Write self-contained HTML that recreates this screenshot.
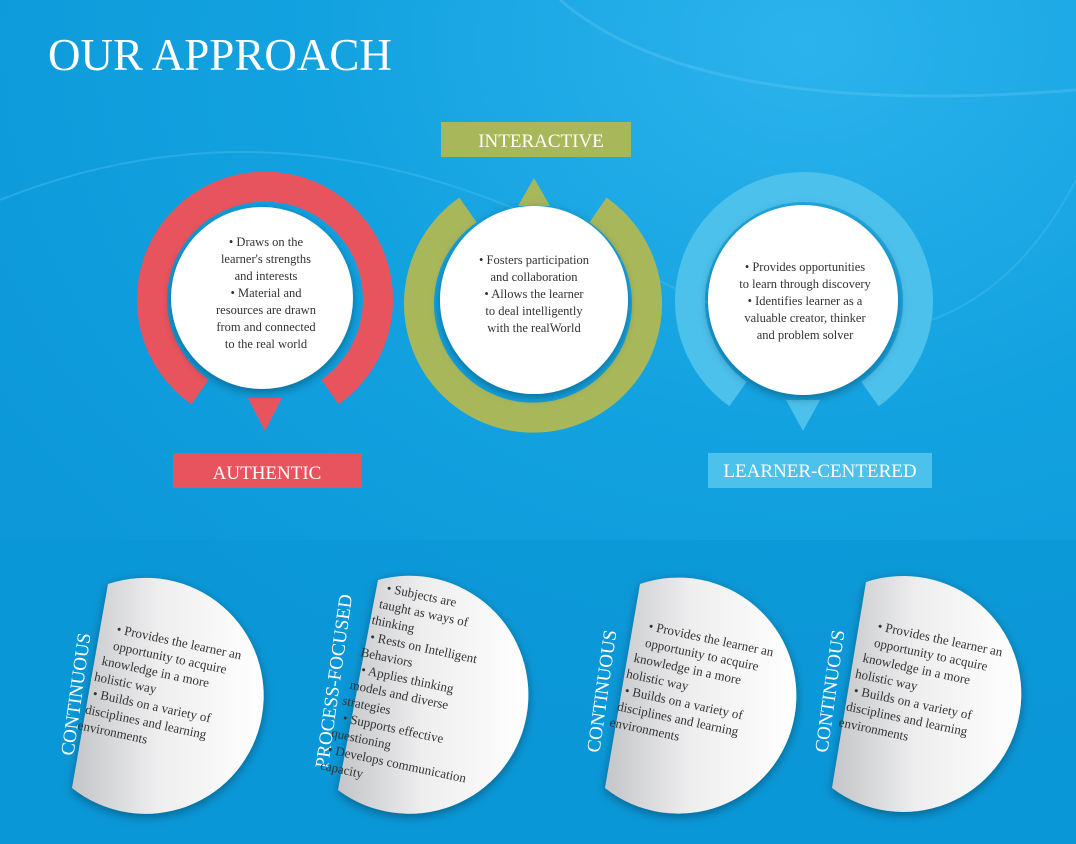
<!DOCTYPE html>
<html><head><meta charset="utf-8"><style>
html,body{margin:0;padding:0;}
body{width:1076px;height:844px;overflow:hidden;background:#0e9fdf;}
svg{display:block;}
.s{font-family:"Liberation Serif",serif;}
</style></head><body>
<svg width="1076" height="844" viewBox="0 0 1076 844" xmlns="http://www.w3.org/2000/svg">
<defs>
<radialGradient id="bg" cx="0.75" cy="0.05" r="0.9">
<stop offset="0" stop-color="#2bb3ec"/><stop offset="0.5" stop-color="#13a2e0"/><stop offset="1" stop-color="#0c98d9"/>
</radialGradient>
<linearGradient id="dg" x1="0" y1="0" x2="1" y2="0">
<stop offset="0" stop-color="#c4c5c8"/><stop offset="0.45" stop-color="#eeeeef"/><stop offset="1" stop-color="#ffffff"/>
</linearGradient>
<filter id="sh" x="-20%" y="-20%" width="140%" height="140%"><feDropShadow dx="0" dy="3" stdDeviation="5" flood-color="#000" flood-opacity="0.35"/></filter>
</defs>
<rect width="1076" height="844" fill="url(#bg)"/>
<path d="M0 200 Q300 80 620 260 T1076 180" stroke="#3fb9ee" stroke-width="2" fill="none" opacity="0.5"/>
<path d="M560 0 Q700 120 1076 90" stroke="#5cc6f2" stroke-width="3" fill="none" opacity="0.4"/>
<rect x="0" y="540" width="1076" height="304" fill="#0a96d6" opacity="0.6"/>

<text x="48" y="70" class="s" font-size="45" fill="#fff">OUR APPROACH</text>

<!-- red -->
<g>
<path d="M200 392 A113 113 0 1 1 330 392" stroke="#e8545e" stroke-width="30" fill="none"/>
<polygon points="248,398 282,398 265,431" fill="#e8545e"/>
<circle cx="262" cy="298" r="91" fill="#fff" filter="url(#sh)"/>
<g class="s" font-size="12.5" fill="#333" text-anchor="middle">
<text x="266" y="246">•  Draws on the</text>
<text x="266" y="263">learner's strengths</text>
<text x="266" y="280">and interests</text>
<text x="266" y="297">•  Material and</text>
<text x="266" y="314">resources are drawn</text>
<text x="266" y="331">from and connected</text>
<text x="266" y="348">to the real world</text>
</g>
</g>
<!-- green -->
<g>
<path d="M468 210 A114 114 0 1 0 598 210" stroke="#a9b75b" stroke-width="30" fill="none"/>
<polygon points="518,206 550,206 534,178" fill="#a9b75b"/>
<circle cx="534" cy="300" r="94" fill="#fff" filter="url(#sh)"/>
<g class="s" font-size="12.5" fill="#333" text-anchor="middle">
<text x="534" y="264">•  Fosters participation</text>
<text x="534" y="281">and collaboration</text>
<text x="534" y="298">•  Allows the learner</text>
<text x="534" y="315">to deal intelligently</text>
<text x="534" y="332">with the realWorld</text>
</g>
</g>
<!-- blue -->
<g>
<path d="M738 394 A114 114 0 1 1 870 394" stroke="#4cc1ec" stroke-width="30" fill="none"/>
<polygon points="786,400 820,400 803,431" fill="#4cc1ec"/>
<circle cx="803" cy="300" r="95" fill="#fff" filter="url(#sh)"/>
<g class="s" font-size="12.5" fill="#333" text-anchor="middle">
<text x="805" y="271">•  Provides opportunities</text>
<text x="805" y="288">to learn through discovery</text>
<text x="805" y="305">•  Identifies learner as a</text>
<text x="805" y="322">valuable creator, thinker</text>
<text x="805" y="339">and problem solver</text>
</g>
</g>

<rect x="441" y="122" width="190" height="35" fill="#a9b75b"/>
<text x="541" y="147" class="s" font-size="19" fill="#fff" text-anchor="middle">INTERACTIVE</text>
<rect x="173" y="453" width="189" height="35" fill="#e8545e"/>
<text x="267" y="479" class="s" font-size="19" fill="#fff" text-anchor="middle">AUTHENTIC</text>
<rect x="708" y="453" width="224" height="35" fill="#4cc1ec"/>
<text x="820" y="477" class="s" font-size="19" fill="#fff" text-anchor="middle">LEARNER-CENTERED</text>

<!-- bottom D shapes -->
<g filter="url(#sh)">
<path d="M108 584 A118 118 0 1 1 72 788 Z" fill="url(#dg)"/>
<path d="M378 580 A119 119 0 1 1 338 790 Z" fill="url(#dg)"/>
<path d="M640 584 A118 118 0 1 1 605 788 Z" fill="url(#dg)"/>
<path d="M866 582 A118 118 0 1 1 832 788 Z" fill="url(#dg)"/>
</g>

<g class="s" font-size="19" fill="#fff" text-anchor="middle">
<text transform="translate(82,695) rotate(-82)">CONTINUOUS</text>
<text transform="translate(340,682) rotate(-82)">PROCESS-FOCUSED</text>
<text transform="translate(608,692) rotate(-82)">CONTINUOUS</text>
<text transform="translate(836,692) rotate(-82)">CONTINUOUS</text>
</g>

<g class="s" font-size="13" fill="#333">
<g transform="translate(116,633) rotate(12)">
<text x="0" y="0">•  Provides the learner an</text>
<text x="0" y="17">opportunity to acquire</text>
<text x="-8" y="34">knowledge in a more</text>
<text x="-12" y="51">holistic way</text>
<text x="-10" y="68">• Builds on a variety of</text>
<text x="-14" y="85">disciplines and learning</text>
<text x="-18" y="102">environments</text>
</g>
<g transform="translate(386,592) rotate(12)">
<text x="0" y="0">•  Subjects are</text>
<text x="-4" y="17">taught as ways of</text>
<text x="-8" y="34">thinking</text>
<text x="-6" y="51">• Rests on Intelligent</text>
<text x="-12" y="68">Behaviors</text>
<text x="-8" y="85">•  Applies thinking</text>
<text x="-16" y="102">models and diverse</text>
<text x="-20" y="119">strategies</text>
<text x="-16" y="136">•  Supports effective</text>
<text x="-24" y="153">questioning</text>
<text x="-24" y="170">• Develops communication</text>
<text x="-28" y="187">capacity</text>
</g>
<g transform="translate(648,630) rotate(12)">
<text x="0" y="0">•  Provides the learner an</text>
<text x="0" y="17">opportunity to acquire</text>
<text x="-8" y="34">knowledge in a more</text>
<text x="-12" y="51">holistic way</text>
<text x="-10" y="68">• Builds on a variety of</text>
<text x="-14" y="85">disciplines and learning</text>
<text x="-18" y="102">environments</text>
</g>
<g transform="translate(877,630) rotate(12)">
<text x="0" y="0">•  Provides the learner an</text>
<text x="0" y="17">opportunity to acquire</text>
<text x="-8" y="34">knowledge in a more</text>
<text x="-12" y="51">holistic way</text>
<text x="-10" y="68">• Builds on a variety of</text>
<text x="-14" y="85">disciplines and learning</text>
<text x="-18" y="102">environments</text>
</g>
</g>
</svg>
</body></html>
